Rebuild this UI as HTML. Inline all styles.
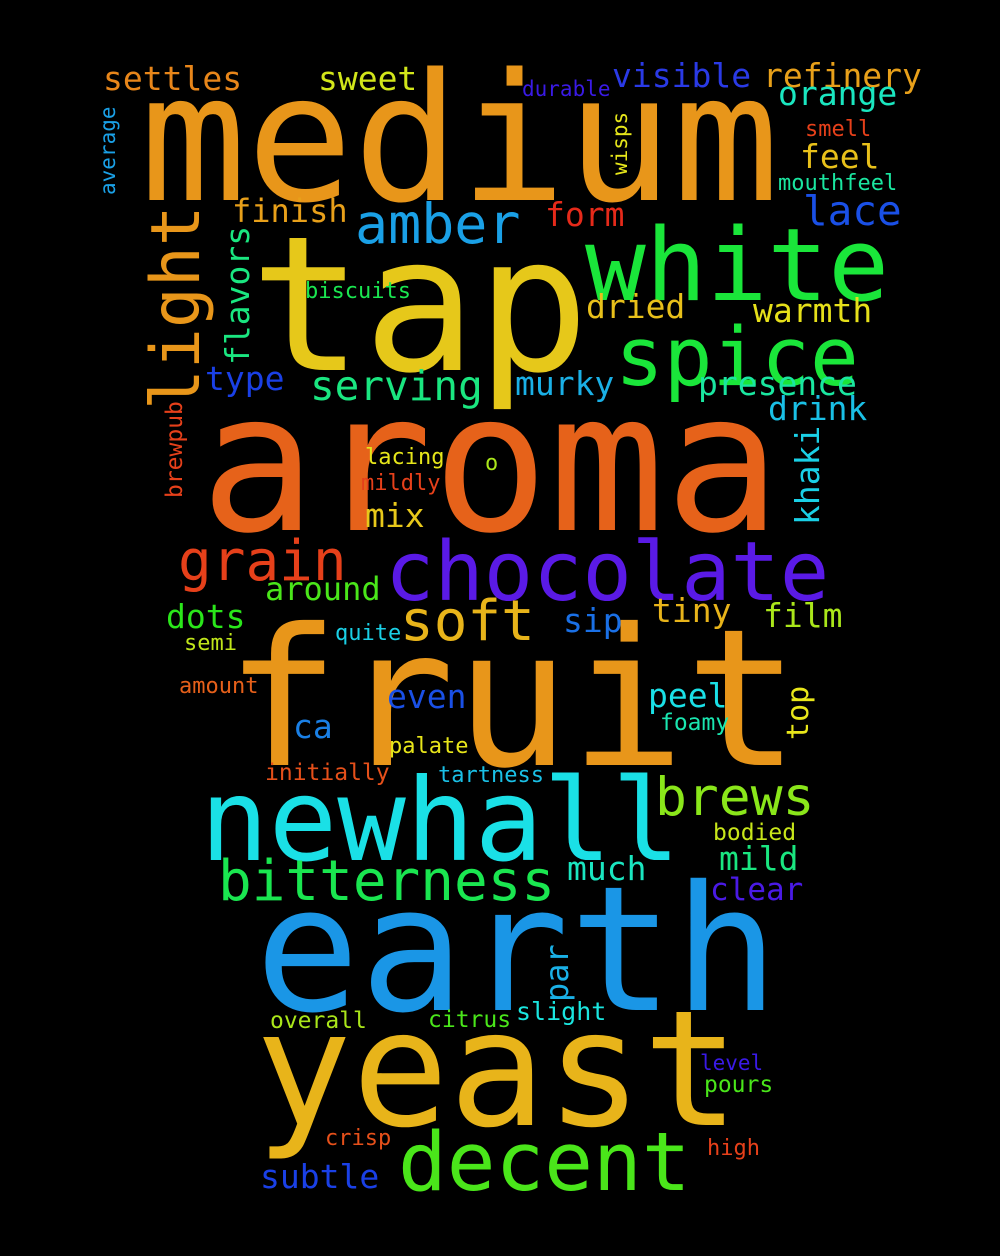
<!DOCTYPE html>
<html><head><meta charset="utf-8"><style>
html,body{margin:0;padding:0;background:#000;}
svg{display:block;}
text{font-family:"DejaVu Sans Mono","Liberation Mono",monospace;}
</style></head><body>
<svg id="cloud" width="1000" height="1256" xmlns="http://www.w3.org/2000/svg">
<rect width="1000" height="1256" fill="#000"/>
</svg>
<script>
const words=["medium","tap","aroma","fruit","earth","yeast","newhall","chocolate","white","spice","light","decent","bitterness","brews","grain","soft","amber","serving","settles","sweet","visible","refinery","orange","durable","average","wisps","smell","feel","mouthfeel","finish","form","lace","flavors","biscuits","dried","warmth","type","murky","presence","drink","brewpub","khaki","lacing","o","mildly","mix","around","dots","sip","tiny","film","semi","quite","amount","even","peel","top","foamy","ca","palate","initially","tartness","bodied","mild","much","clear","par","overall","citrus","slight","level","pours","crisp","high","subtle"];
const sizes=[177,188,193,191,174,161,114,82,101,81,68,81,56,53,56,56,55,41,33,33,33,33,33,21,21,21,22,33,22,32,33,41,33,22,33,33,33,33,33,33,23,33,22,22,22,33,32,33,33,33,33,22,22,22,33,33,30,23,33,22,23,22,23,33,33,31,32,23,23,25,21,23,22,22,33];
const colors=["#e8961a","#e6c81a","#e6621a","#e8961a","#1a96e6","#e8b41a","#1ae0e6","#5a1ae6","#1ae63a","#1ae63a","#e8961a","#4ae61a","#1ae650","#8ae61a","#e6401a","#e8b41a","#1aa0e6","#1ae680","#e8861a","#d2e61a","#2a3ae6","#e8a01a","#1ae6c0","#3a1ae6","#1aa0e6","#e6e61a","#e6401a","#e8c01a","#1ae6a0","#e8a01a","#e62a1a","#1a50e6","#1ae680","#1ae650","#e8c01a","#e6e01a","#1a40e6","#1ab0e6","#1ae6a0","#1ac0e6","#e6401a","#1ad0e6","#e6e61a","#aae61a","#e6401a","#e8c81a","#4ae61a","#2ae61a","#1a70e6","#e8b41a","#aae61a","#c0e61a","#1ad0e6","#e6601a","#1a50e6","#1ae0e6","#e8e61a","#1ae6b0","#1a80e6","#e8e61a","#e6501a","#1ac0e6","#c8e61a","#1ae680","#1ae6c0","#4a1ae6","#1ab0e6","#aae61a","#4ae61a","#1ae6e0","#3a1ae6","#4ae61a","#e6501a","#e6401a","#1a40e6"];
// anchor x, baseline y (for rotated: baseline x, start y)
const anchorX=[140,250,200,225,255,255,200,385,585,615,199,398,218,655,178,400,355,310,103,318,612,763,778,522,115,627,805,800,778,232,545,803,249,305,586,753,205,515,698,768,182,819,365,485,361,365,265,166,563,652,763,184,335,179,387,648,808,660,293,389,265,438,713,719,567,710,568,270,428,516,700,704,325,707,260];
const anchorY=[200,370,530,765,1010,1125,860,600,300,385,410,1190,900,815,580,640,243,400,90,90,87,87,105,96,195,175,136,168,190,222,226,225,365,298,318,322,390,395,395,420,498,525,464,470,490,527,600,628,632,622,627,650,640,693,708,707,740,730,738,753,780,782,840,870,880,900,1002,1028,1027,1020,1070,1092,1145,1155,1188];
const rotated=["light","average","wisps","flavors","brewpub","khaki","top","par"];
const svg=document.getElementById('cloud');
const NS="http://www.w3.org/2000/svg";
for(let i=0;i<words.length;i++){
  const t=document.createElementNS(NS,'text');
  
  
  t.setAttribute('x',anchorX[i]);
  t.setAttribute('y',anchorY[i]);
  t.setAttribute('font-size',sizes[i]);
  t.setAttribute('fill',colors[i]);
  t.setAttribute('textLength',(words[i].length*0.602*sizes[i]).toFixed(1));
  t.setAttribute('lengthAdjust','spacingAndGlyphs');
  if(rotated.includes(words[i])) t.setAttribute('transform','rotate(-90 '+anchorX[i]+' '+anchorY[i]+')');
  t.textContent=words[i];
  svg.appendChild(t);
}
</script>
</body></html>
